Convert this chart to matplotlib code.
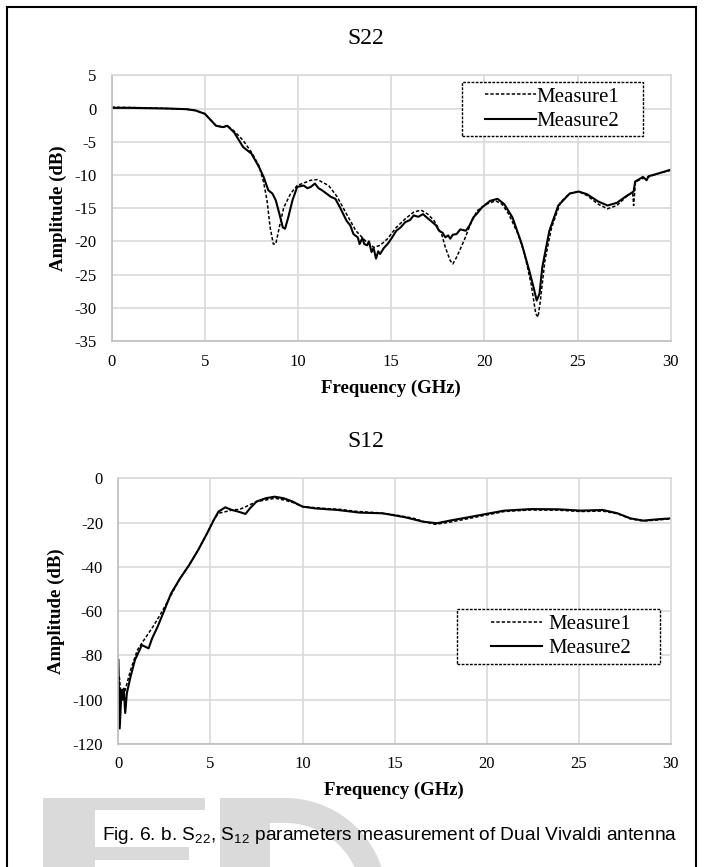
import matplotlib
matplotlib.use('Agg')
import matplotlib.pyplot as plt
from matplotlib.patches import Rectangle, Polygon
import numpy as np

plt.rcParams['font.family'] = ['Liberation Serif', 'DejaVu Serif']
plt.rcParams['mathtext.fontset'] = 'custom'
plt.rcParams['mathtext.rm'] = 'Liberation Sans'
plt.rcParams['axes.unicode_minus'] = False

# S22 data (GHz, dB)
s22_f1 = [0, 1, 2, 3, 4, 4.5, 5.0, 5.6, 5.97, 6.2, 6.57, 7.05, 7.5, 7.9, 8.15, 8.33, 8.5,
          8.67, 8.8, 8.99, 9.23, 9.6, 9.95, 10.68, 11.04, 11.64, 12.1, 12.6, 13.1, 13.6,
          14.06, 14.4, 14.8, 15.27, 15.75, 16.2, 16.6, 16.96, 17.3, 17.7, 17.9, 18.16, 18.3,
          18.5, 18.9, 19.25, 19.6, 20.1, 20.6, 20.94, 21.3, 21.8, 22.15, 22.5, 22.75, 22.87,
          23.0, 23.24, 23.6, 24.08, 24.57, 25.05, 25.5, 26.1, 26.6, 27.1, 27.6, 27.95, 28.0,
          28.1, 28.4, 28.8, 29.3, 30]
s22_m1 = [0.2, 0.15, 0.1, 0.0, -0.1, -0.3, -0.8, -2.6, -2.8, -2.6, -3.4, -4.8, -6.6, -8.6,
          -11.1, -13.8, -17.9, -20.4, -20.4, -17.9, -14.9, -12.8, -11.6, -10.8, -10.7, -11.6,
          -13.3, -15.9, -18.4, -19.9, -20.9, -20.6, -19.6, -17.9, -16.6, -15.6, -15.3, -15.9,
          -16.9, -18.9, -20.9, -22.9, -23.4, -22.4, -19.9, -17.4, -15.4, -14.4, -13.9, -14.4,
          -15.9, -18.9, -21.9, -26.4, -30.9, -31.4, -28.9, -22.9, -17.9, -14.1, -12.8, -12.5,
          -13.1, -14.4, -15.1, -14.6, -13.3, -12.6, -14.6, -11.1, -10.6, -10.3, -9.8, -9.3]

s22_f2 = [0, 1, 2, 3, 4, 4.5, 5.0, 5.6, 5.97, 6.2, 6.57, 7.05, 7.5, 7.9, 8.15, 8.4, 8.62,
          8.8, 9.0, 9.18, 9.3, 9.47, 9.7, 9.95, 10.3, 10.5, 10.68, 10.9, 11.1, 11.28, 11.76,
          12.0, 12.25, 12.6, 12.8, 12.97, 13.2, 13.3, 13.45, 13.55, 13.7, 13.8, 13.94, 14.05,
          14.18, 14.3, 14.4, 14.6, 14.8, 15.0, 15.27, 15.5, 15.75, 16.0, 16.2, 16.45, 16.7,
          16.9, 17.2, 17.4, 17.56, 17.75, 17.9, 18.05, 18.16, 18.3, 18.5, 18.7, 19.0, 19.2,
          19.4, 19.6, 19.86, 20.3, 20.7, 21.06, 21.5, 22.0, 22.4, 22.63, 22.8, 22.95, 23.1,
          23.48, 23.96, 24.57, 25.05, 25.5, 26.1, 26.6, 27.1, 27.6, 28.0, 28.08, 28.5, 28.7,
          28.8, 29.3, 30]
s22_m2 = [0.1, 0.1, 0.05, 0.0, -0.1, -0.3, -0.8, -2.6, -2.8, -2.6, -3.6, -5.8, -6.8, -8.8,
          -10.3, -12.3, -12.8, -13.8, -15.9, -17.9, -18.1, -16.4, -13.8, -11.8, -11.6, -12.0,
          -11.8, -11.3, -12.0, -12.3, -13.3, -13.6, -14.9, -16.9, -17.6, -18.9, -19.4, -20.4,
          -19.5, -20.4, -20.6, -20.0, -21.6, -21.0, -22.6, -21.5, -21.9, -21.0, -20.4, -19.6,
          -18.4, -17.9, -17.1, -16.8, -16.1, -16.3, -15.9, -16.4, -17.1, -17.6, -18.4, -18.7,
          -19.4, -19.1, -19.6, -19.0, -18.9, -18.2, -18.4, -17.6, -16.4, -15.8, -14.9, -13.9,
          -13.6, -14.4, -16.4, -20.4, -24.4, -26.9, -28.9, -27.9, -23.9, -18.4, -14.6, -12.8,
          -12.5, -12.9, -14.0, -14.6, -14.2, -13.2, -12.5, -11.0, -10.3, -10.8, -10.2, -9.8,
          -9.2]

# S12 data (GHz, dB)
s12_f1 = [0.05, 0.17, 0.37, 0.66, 1.03, 1.39, 1.88, 2.37, 2.86, 3.35, 3.84, 4.33, 4.82, 5.18,
          5.43, 5.8, 6.2, 6.6, 7.0, 7.5, 8.0, 8.5, 9.0, 9.5, 10.0, 11.0, 12.0, 13.0, 14.0,
          15.0, 16.0, 16.6, 17.2, 18.0, 19.0, 19.97, 20.95, 22.4, 23.9, 25.1, 26.3, 27.1,
          27.8, 28.5, 29.3, 30]
s12_m1 = [-89.6, -100, -95.6, -86.6, -77.6, -73, -67, -60.2, -52.7, -45.2, -39.2, -32.4,
          -24.8, -18.8, -15.8, -15.1, -14.3, -14.0, -12.5, -10.5, -9.8, -9.0, -9.8, -11.0,
          -12.8, -13.5, -14.0, -15.0, -15.5, -16.5, -18.0, -19.6, -20.8, -19.8, -18.2, -16.6,
          -15.0, -14.3, -14.4, -15.0, -14.8, -16.0, -18.3, -19.3, -18.8, -18.3]

s12_f2 = [0.0, 0.07, 0.17, 0.22, 0.29, 0.37, 0.46, 0.66, 0.9, 1.15, 1.27, 1.44, 1.64, 1.83,
          2.13, 2.5, 2.86, 3.35, 3.84, 4.33, 4.82, 5.18, 5.43, 5.8, 6.16, 6.53, 6.9, 7.14, 7.5,
          8.0, 8.48, 8.97, 9.46, 10.0, 10.7, 11.9, 13.1, 14.35, 15.57, 16.55, 17.3, 18.0,
          19.0, 19.97, 20.95, 22.4, 23.9, 25.1, 26.3, 27.1, 27.8, 28.5, 29.3, 30]
s12_m2 = [-82, -113, -95.6, -100, -95, -106, -97, -89.6, -82, -77.6, -75.3, -76, -76.8,
          -72.3, -67, -59.5, -52, -45.2, -39.2, -32.4, -24.8, -18.8, -15.1, -13.1, -14.3,
          -15.1, -16.1, -13.6, -10.5, -9.0, -8.3, -9.0, -10.5, -12.8, -13.6, -14.3, -15.5,
          -15.8, -17.6, -19.6, -20.3, -19.1, -17.6, -16.1, -14.6, -13.9, -14.0, -14.6, -14.3,
          -15.8, -18.1, -19.1, -18.5, -18.1]

xticks = [0, 5, 10, 15, 20, 25, 30]
s22_yticks = [5, 0, -5, -10, -15, -20, -25, -30, -35]
s12_yticks = [0, -20, -40, -60, -80, -100, -120]

W, H = 706, 867
fig = plt.figure(figsize=(W / 100, H / 100), dpi=100)

grid_c = '#d9d9d9'
dash = (0, (2.2, 1.3))


def style(ax, yticks):
    ax.set_xlim(0, 30)
    ax.set_ylim(min(yticks), max(yticks))
    ax.set_xticks(xticks)
    ax.set_yticks(yticks)
    ax.grid(True, color=grid_c, lw=1.2)
    ax.set_axisbelow(True)
    for s in ax.spines.values():
        s.set_color(grid_c)
        s.set_linewidth(1.2)
    ax.spines['left'].set_color('#bfbfbf')
    ax.spines['bottom'].set_color('#bfbfbf')
    ax.tick_params(length=0, labelsize=12, pad=9)
    ax.tick_params(axis='y', pad=11)


def legend(ax, box, line_x, textpad):
    x0, y0, x1, y1 = box
    fig.patches.append(Rectangle((x0 / W, 1 - y1 / H), (x1 - x0) / W, (y1 - y0) / H,
                                 transform=fig.transFigure, facecolor='white',
                                 edgecolor='black', ls=(0, (2, 1)), lw=1.0, zorder=4))
    handles, labels = ax.get_legend_handles_labels()
    lg = fig.legend(handles, labels, loc='center left',
                    bbox_to_anchor=(line_x / W, 1 - (y0 + y1) / 2 / H),
                    bbox_transform=fig.transFigure, fontsize=15, frameon=False,
                    handlelength=2.45, handletextpad=textpad, borderpad=0,
                    labelspacing=0.22, borderaxespad=0)
    lg.set_zorder(6)


# top chart: S22
ax1 = fig.add_axes([111.7 / W, 1 - 341 / H, (670.9 - 111.7) / W, (341 - 75.3) / H])
ax1.plot(s22_f1, s22_m1, color='black', lw=1.1, ls=dash, label='Measure1')
ax1.plot(s22_f2, s22_m2, color='black', lw=1.5, label='Measure2')
style(ax1, s22_yticks)
legend(ax1, (462, 82, 643, 136), 485, 0.02)

# bottom chart: S12
ax2 = fig.add_axes([118.4 / W, 1 - 744 / H, (670.9 - 118.4) / W, (744 - 478.3) / H])
ax2.plot(s12_f1, s12_m1, color='black', lw=1.1, ls=dash, label='Measure1')
ax2.plot(s12_f2, s12_m2, color='black', lw=1.5, label='Measure2')
style(ax2, s12_yticks)
legend(ax2, (457, 609, 660, 664), 491, 0.3)

# titles and axis labels
fig.text(365.6 / W, 1 - 38 / H, 'S22', fontsize=17, ha='center', va='center')
fig.text(365.6 / W, 1 - 441.7 / H, 'S12', fontsize=17, ha='center', va='center')
fig.text(391 / W, 1 - 388 / H, 'Frequency (GHz)', fontsize=13.5, fontweight='bold',
         ha='center', va='center')
fig.text(394 / W, 1 - 790 / H, 'Frequency (GHz)', fontsize=13.5, fontweight='bold',
         ha='center', va='center')
fig.text(58.5 / W, 1 - 208 / H, 'Amplitude (dB)', fontsize=13.5, fontweight='bold',
         rotation=90, ha='center', va='center')
fig.text(56.3 / W, 1 - 611 / H, 'Amplitude (dB)', fontsize=13.5, fontweight='bold',
         rotation=90, ha='center', va='center')

# watermark shapes (light gray letters cut off at the bottom)
wm = '#dadada'


def px(pts):
    return [(x / W, 1 - y / H) for x, y in pts]


e_shape = px([(43, 870), (43, 798), (205, 798), (205, 810), (94.5, 810), (94.5, 847),
              (189, 847), (189, 860), (94.5, 860), (94.5, 870)])
fig.patches.append(Polygon(e_shape, closed=True, transform=fig.transFigure,
                           facecolor=wm, edgecolor='none', zorder=0))
cx, cy = 285, 900
outer = [(cx + 102 * np.cos(a), cy + 102 * np.sin(a))
         for a in np.linspace(-np.pi / 2, -np.arcsin(30 / 102), 40)]
inner = [(cx + 77 * np.cos(a), cy + 77 * np.sin(a))
         for a in np.linspace(-np.arcsin(30 / 77), -np.pi / 2, 40)]
d_shape = px([(220, 870), (220, 798)] + outer + inner + [(270, 823), (270, 870)])
fig.patches.append(Polygon(d_shape, closed=True, transform=fig.transFigure,
                           facecolor=wm, edgecolor='none', zorder=0))

# caption
fig.text(390 / W, 1 - 835 / H,
         r'Fig. 6. b. S$_{\mathrm{22}}$, S$_{\mathrm{12}}$ parameters measurement of Dual Vivaldi antenna',
         fontsize=13.8, family=['Liberation Sans', 'DejaVu Sans'], ha='center', va='center',
         zorder=5)

# outer frame
fig.patches.append(Rectangle((7 / W, -0.05), (696 - 7) / W, 1 - 7 / H + 0.05,
                             transform=fig.transFigure, fill=False, edgecolor='black',
                             lw=1.5, zorder=10))

fig.savefig('out.png', dpi=100)
